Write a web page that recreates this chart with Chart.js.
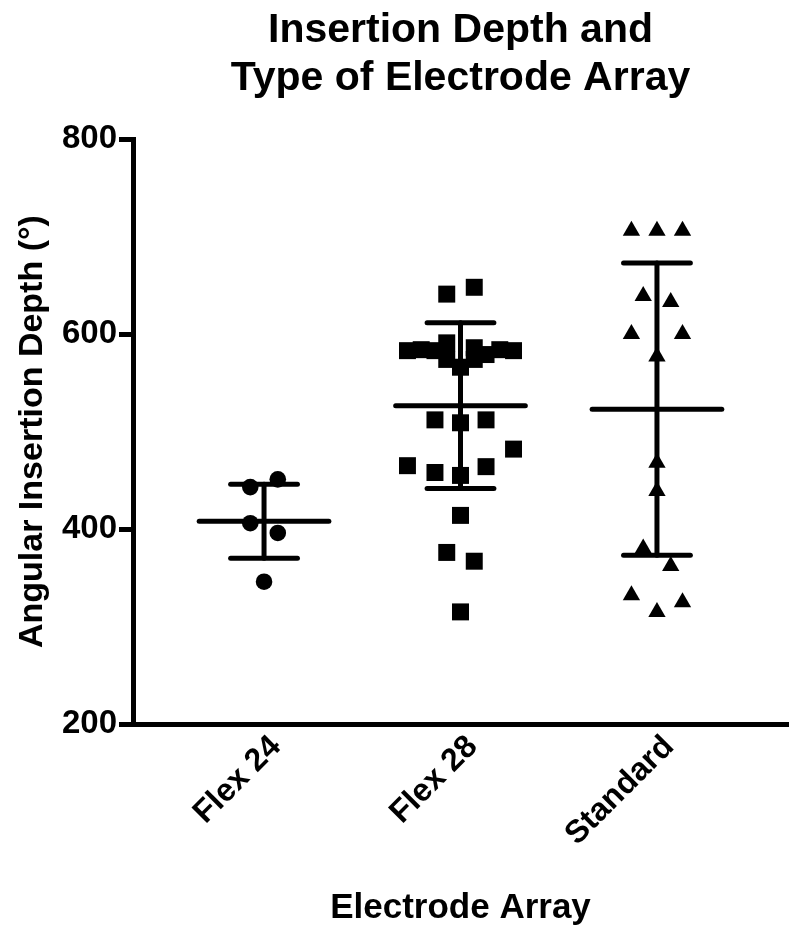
<!DOCTYPE html>
<html>
<head>
<meta charset="utf-8">
<script src="https://cdn.jsdelivr.net/npm/chart.js@4.4.1/dist/chart.umd.min.js"></script>
<style>
  html, body { margin: 0; padding: 0; background: #fff; }
  #wrap { width: 800px; height: 931px; }
</style>
</head>
<body>
<div id="wrap"><canvas id="depthChart" width="800" height="931"></canvas></div>
<script>
// =============================================================================
// DATA
// =============================================================================
const categories = ["Flex 24", "Flex 28", "Standard"];
const yTicks = [200, 400, 600, 800];

// x = category index + jitter, y = angular insertion depth (deg)
const flex24X = [-0.07, 0.07, -0.07, 0.07, 0];
const flex24Y = [443, 451, 406, 396, 346];

const flex28X = [
  0.93, 1.07, 0.73, 0.80, 0.87, 0.93, 1.07, 1.13, 1.20, 1.27, 0.93, 1.07, 1.00,
  0.87, 1.00, 1.13, 1.27, 0.73, 0.87, 1.00, 1.13, 1.00, 0.93, 1.07, 1.00
];
const flex28Y = [
  641, 648, 583, 584, 583, 591, 586, 579, 584, 583, 574, 574, 566,
  512, 509, 512, 482, 465, 458, 455, 464, 414, 376, 367, 315
];

const standardX = [1.87, 2.00, 2.13, 1.93, 2.07, 1.87, 2.13, 2.00, 2.00, 2.00, 1.93, 2.07, 1.87, 2.13, 2.00];
const standardY = [706, 706, 706, 639, 633, 600, 600, 577, 468, 439, 380, 362, 332, 325, 315];

// mean and SD bars per category
const means = [408, 526.5, 523];
const sds = [38, 85, 150];

// =============================================================================
// HELPERS
// =============================================================================
function toPoints(xs, ys) {
  return xs.map((x, i) => ({ x, y: ys[i] }));
}

const FONT = "'Liberation Sans', Arial, Helvetica, sans-serif";

// mean line + SD whiskers, drawn through the chart scales
const meanSdPlugin = {
  id: "meanSd",
  afterDatasetsDraw(chart) {
    const { ctx, scales: { x, y } } = chart;
    ctx.save();
    ctx.strokeStyle = "#000";
    ctx.lineWidth = 5;
    ctx.lineCap = "round";
    const line = (x1, y1, x2, y2) => {
      ctx.beginPath();
      ctx.moveTo(x1, y1);
      ctx.lineTo(x2, y2);
      ctx.stroke();
    };
    means.forEach((m, i) => {
      const hi = m + sds[i], lo = m - sds[i];
      const cx = x.getPixelForValue(i);
      // mean
      line(x.getPixelForValue(i - 0.33), y.getPixelForValue(m),
           x.getPixelForValue(i + 0.33), y.getPixelForValue(m));
      // whisker
      line(cx, y.getPixelForValue(hi), cx, y.getPixelForValue(lo));
      // caps
      line(x.getPixelForValue(i - 0.17), y.getPixelForValue(hi),
           x.getPixelForValue(i + 0.17), y.getPixelForValue(hi));
      line(x.getPixelForValue(i - 0.17), y.getPixelForValue(lo),
           x.getPixelForValue(i + 0.17), y.getPixelForValue(lo));
    });
    ctx.restore();
  }
};

// =============================================================================
// CHART
// =============================================================================
new Chart(document.getElementById("depthChart").getContext("2d"), {
  type: "scatter",
  data: {
    datasets: [
      {
        label: categories[0],
        data: toPoints(flex24X, flex24Y),
        pointStyle: "circle",
        pointRadius: 8.3,
        backgroundColor: "#000",
        borderWidth: 0
      },
      {
        label: categories[1],
        data: toPoints(flex28X, flex28Y),
        pointStyle: "rect",
        pointRadius: 12,
        backgroundColor: "#000",
        borderWidth: 0
      },
      {
        label: categories[2],
        data: toPoints(standardX, standardY),
        pointStyle: "triangle",
        pointRadius: 10,
        backgroundColor: "#000",
        borderWidth: 0
      }
    ]
  },
  plugins: [meanSdPlugin],
  options: {
    responsive: false,
    animation: false,
    devicePixelRatio: 1,
    layout: { padding: { left: 10, right: 8, top: 0, bottom: 0 } },
    plugins: {
      legend: { display: false },
      tooltip: { enabled: false },
      title: {
        display: true,
        fullSize: false,
        text: ["Insertion Depth and", "Type of Electrode Array"],
        color: "#000",
        font: { family: FONT, size: 41, weight: "bold", lineHeight: 1.16 },
        padding: { top: 7, bottom: 37 }
      }
    },
    scales: {
      x: {
        type: "linear",
        min: -0.667,
        max: 2.667,
        afterBuildTicks: s => { s.ticks = categories.map((c, i) => ({ value: i })); },
        afterFit: s => { s.height = 207; },
        ticks: {
          color: "#000",
          font: { family: FONT, size: 32, weight: "bold" },
          maxRotation: 45,
          minRotation: 45,
          padding: 4,
          labelOffset: 12,
          callback: v => categories[v]
        },
        grid: { display: false, drawTicks: false },
        border: { display: true, color: "#000", width: 5 },
        title: {
          display: true,
          text: "Electrode Array",
          color: "#000",
          font: { family: FONT, size: 35, weight: "bold" },
          padding: { top: 0, bottom: 2 }
        }
      },
      y: {
        min: 200,
        max: 800,
        afterBuildTicks: s => { s.ticks = yTicks.map(v => ({ value: v })); },
        afterFit: s => { s.width = 123; },
        ticks: {
          color: "#000",
          font: { family: FONT, size: 33, weight: "bold" },
          padding: 2
        },
        grid: {
          display: true,
          drawOnChartArea: false,
          drawTicks: true,
          tickLength: 14,
          lineWidth: 5,
          color: "#000"
        },
        border: { display: true, color: "#000", width: 5 },
        title: {
          display: true,
          text: "Angular Insertion Depth (°)",
          color: "#000",
          font: { family: FONT, size: 34, weight: "bold" },
          padding: { top: 2, bottom: 0 }
        }
      }
    }
  }
});
</script>
</body>
</html>
